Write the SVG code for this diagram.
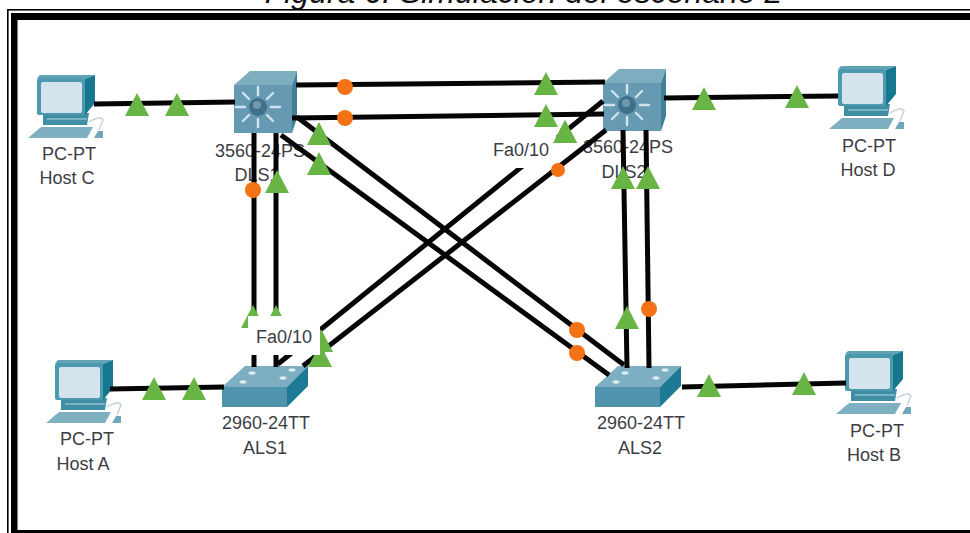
<svg xmlns="http://www.w3.org/2000/svg" width="970" height="533" viewBox="0 0 970 533">
<style>
text{font-family:"Liberation Sans",Arial,sans-serif;font-size:18px;fill:#3c3c44;text-anchor:middle}
.title{font-size:32px;font-style:italic;fill:#111}
.l{stroke:#050505;stroke-width:5;fill:none}
.t{fill:#68b545}
.o{fill:#f47216}
</style>
<defs>
<filter id="soft" x="-10%" y="-10%" width="120%" height="120%"><feGaussianBlur stdDeviation="0.5"/></filter>
<polygon id="tri" class="t" points="0,-17 12,6 -12,6"/>
<circle id="dot" class="o" r="8"/>
<g id="pc" filter="url(#soft)">
<path d="M-9,63 L4,52 L56,52 L50,63 Z" fill="#7fb0c2"/>
<path d="M6,38 L52,38 L50,50 L6,50 Z" fill="#3f8ea3"/>
<path d="M10,44 L50,44" stroke="#8fc0cf" stroke-width="1.5"/>
<path d="M0,3 L3,0 L58,0 L48,4 Z" fill="#5fa3b5"/>
<path d="M48,4 L58,0 L58,28 L48,40 Z" fill="#17778f"/>
<rect x="0" y="3" width="48" height="37" rx="2" fill="#4d9ab0"/>
<rect x="4" y="7" width="41" height="31" rx="2" fill="#d5e4ec"/>
<path d="M57,63 L61,56 L66,56 L66,63 Z" fill="#6fa7bb"/>
<path d="M52,47 Q64,40 66,45 L62,55" fill="none" stroke="#c7d5dc" stroke-width="1.6"/>
</g>
<g id="ml" filter="url(#soft)">
<path d="M-24,-22 L-8,-36 L39,-36 L34,-22 Z" fill="#7fadc0"/>
<path d="M34,-22 L39,-36 L39,11 L34,26 Z" fill="#3f8198"/>
<rect x="-24" y="-22" width="58" height="48" fill="#669ab3"/>
<g stroke="#cfe4ee" stroke-width="2.4" stroke-linecap="round">
<path d="M0,-20 V-12 M0,12 V20 M-22,0 H-13 M13,0 H22 M-15,-14 L-9,-8 M15,-14 L9,-8 M-15,14 L-9,8 M15,14 L9,8"/>
</g>
<circle r="9" fill="#3f6f8a"/>
<circle cx="-1" cy="-2" r="4" fill="#6f99ad"/>
</g>
<g id="sw" filter="url(#soft)">
<path d="M0,0 L23,-21 L86,-21 L65,0 Z" fill="#7eaec1"/>
<rect x="0" y="0" width="65" height="20" fill="#4f93ad"/>
<path d="M65,0 L86,-21 L86,-1 L65,20 Z" fill="#1e7a94"/>
<g fill="#dcecf2"><ellipse cx="21" cy="-5" rx="3.5" ry="1.7"/><ellipse cx="30" cy="-14" rx="3.5" ry="1.7"/><ellipse cx="70" cy="-17" rx="3.5" ry="1.7"/><ellipse cx="61" cy="-9" rx="3.5" ry="1.7"/></g>
</g>
</defs>
<rect width="970" height="533" fill="#fff"/>
<text class="title" x="523.5" y="3">Figura 6: Simulación del escenario 2</text>
<g id="frame" fill="#000">
<rect x="7" y="9" width="963" height="1.6"/>
<rect x="7" y="9" width="1.6" height="524"/>
<rect x="11" y="13" width="959" height="7"/>
<rect x="11" y="13" width="6.5" height="520"/>
<rect x="11" y="530" width="959" height="3"/>
</g>
<g id="host-c"><use href="#pc" x="37" y="75"/><text x="69" y="160">PC-PT</text><text x="67" y="184">Host C</text></g>
<g id="dls1"><use href="#ml" x="258" y="107"/><text x="260" y="157">3560-24PS</text><text x="257" y="181">DLS1</text></g>
<g id="dls2"><use href="#ml" x="627" y="105"/><text x="628" y="153">3560-24PS</text><text x="624" y="178">DLS2</text></g>
<g id="host-d"><use href="#pc" x="838" y="66"/><text x="869" y="152">PC-PT</text><text x="868" y="176">Host D</text></g>
<g id="host-a"><use href="#pc" x="55" y="360"/><text x="87" y="445">PC-PT</text><text x="83" y="470">Host A</text></g>
<g id="als1"><use href="#sw" x="222" y="387"/><text x="266" y="429">2960-24TT</text><text x="265" y="454">ALS1</text></g>
<g id="als2"><use href="#sw" x="595" y="387"/><text x="641" y="429">2960-24TT</text><text x="640" y="454">ALS2</text></g>
<g id="host-b"><use href="#pc" x="845" y="351"/><text x="877" y="437">PC-PT</text><text x="874" y="461">Host B</text></g>
<g id="connectors">
<path class="l" d="M94,104 L235,102"/>
<path class="l" d="M296,85 L605,82"/>
<path class="l" d="M292,118 L604,114"/>
<path class="l" d="M664,98 L838,96"/>
<path class="l" d="M110,389 L224,387"/>
<path class="l" d="M682,387 L846,383"/>
<path class="l" d="M254,133 V367"/>
<path class="l" d="M276,133 V367"/>
<path class="l" d="M623,130 L627,368"/>
<path class="l" d="M646,130 L649,368"/>
<path class="l" d="M297,117 L624,365"/>
<path class="l" d="M281,135 L609,375"/>
<path class="l" d="M603,101 L278,364"/>
<path class="l" d="M606,130 L303,366"/>
</g>
<g id="markers">
<use href="#tri" x="137" y="110"/><use href="#tri" x="177" y="110"/>
<use href="#dot" x="345" y="87"/><use href="#dot" x="345" y="118"/>
<use href="#tri" x="546" y="89"/><use href="#tri" x="546" y="121"/><use href="#tri" x="565" y="137"/>
<use href="#tri" x="704" y="104"/><use href="#tri" x="797" y="102"/>
<use href="#tri" x="319" y="139"/><use href="#tri" x="319" y="169"/>
<use href="#dot" x="253" y="190"/><use href="#tri" x="277" y="187"/>
<use href="#tri" x="623" y="183"/><use href="#tri" x="648" y="183"/>
<use href="#tri" x="253" y="322"/><use href="#tri" x="276" y="322"/>
<use href="#tri" x="321" y="346"/><use href="#tri" x="320" y="361"/>
<use href="#tri" x="627" y="323"/><use href="#dot" x="649" y="309"/>
<use href="#dot" x="577" y="330"/><use href="#dot" x="577" y="353"/>
<use href="#tri" x="154" y="394"/><use href="#tri" x="194" y="394"/>
<use href="#tri" x="709" y="391"/><use href="#tri" x="804" y="389"/>
</g>
<g id="label-fa0-10-als1"><rect x="248" y="316" width="72" height="39" fill="#fff"/><text x="284" y="343">Fa0/10</text></g>
<g id="label-fa0-10-dls2"><rect x="490" y="133" width="66" height="35" fill="#fff"/><text x="521" y="156">Fa0/10</text></g>
<use href="#tri" x="565" y="137"/>
<circle class="o" cx="558" cy="170" r="7"/>
</svg>
